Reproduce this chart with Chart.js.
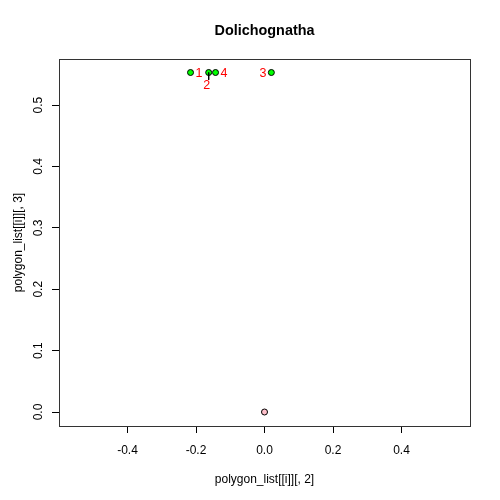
<!DOCTYPE html>
<html>
<head>
<meta charset="utf-8">
<script src="https://cdn.jsdelivr.net/npm/chart.js@4"></script>
<style>
  body { margin:0; background:#fff; }
  canvas { display:block; }
</style>
</head>
<body>
<canvas id="plot" width="500" height="500"></canvas>
<script>
// polygon vertices (green) and centre point (pink)
const ptX = [-0.216, -0.163, 0.020, -0.143];
const ptY = [0.553, 0.553, 0.553, 0.553];
const ptLabels = ['1', '2', '3', '4'];
const ptPos = ['right', 'below', 'left', 'right'];
const centreX = [0.0];
const centreY = [0.0];
const segX = [-0.163, -0.163];
const segY = [0.553, 0.541];
const xTicks = [-0.4, -0.2, 0.0, 0.2, 0.4];
const yTicks = [0.0, 0.1, 0.2, 0.3, 0.4, 0.5];

const FONT = 'Liberation Sans, Arial, Helvetica, sans-serif';

const rPlot = {
  id: 'rPlot',
  afterDatasetsDraw(chart){
    const {ctx, chartArea:a, scales:{x, y}} = chart;
    ctx.save();
    // point labels
    ctx.fillStyle = '#ff0000';
    ctx.font = '12.5px ' + FONT;
    ptX.forEach((v,i)=>{
      const px = x.getPixelForValue(v), py = y.getPixelForValue(ptY[i]);
      const p = ptPos[i];
      if (p === 'right'){ ctx.textAlign='left'; ctx.textBaseline='middle'; ctx.fillText(ptLabels[i], px+5, py+1.5); }
      else if (p === 'left'){ ctx.textAlign='right'; ctx.textBaseline='middle'; ctx.fillText(ptLabels[i], px-5, py+1.5); }
      else { ctx.textAlign='center'; ctx.textBaseline='top'; ctx.fillText(ptLabels[i], px-2, py+7); }
    });
    // box
    ctx.strokeStyle = '#333';
    ctx.lineWidth = 1;
    ctx.strokeRect(Math.round(a.left)+0.5, Math.round(a.top)+0.5, Math.round(a.right-a.left), Math.round(a.bottom-a.top));
    // title
    ctx.fillStyle = '#000';
    ctx.font = 'bold 14.4px ' + FONT;
    ctx.textAlign = 'center';
    ctx.textBaseline = 'middle';
    ctx.fillText('Dolichognatha', (a.left+a.right)/2, 31);
    ctx.restore();
  }
};

new Chart(document.getElementById('plot'), {
  type: 'scatter',
  data: {
    datasets: [
      { data: segX.map((v,i)=>({x:v, y:segY[i]})), showLine:true, borderColor:'#000', borderWidth:1, pointRadius:0 },
      { data: ptX.map((v,i)=>({x:v, y:ptY[i]})), backgroundColor:'#00ff00', borderColor:'#000', borderWidth:1, pointRadius:3 },
      { data: centreX.map((v,i)=>({x:v, y:centreY[i]})), backgroundColor:'#ffc0cb', borderColor:'#000', borderWidth:1, pointRadius:3 }
    ]
  },
  options: {
    responsive:false,
    animation:false,
    layout:{ padding:{ top:59, right:30, left:0, bottom:0 } },
    plugins:{ legend:{display:false}, tooltip:{enabled:false}, title:{display:false} },
    scales:{
      x:{
        type:'linear', min:-0.6, max:0.6,
        afterFit(s){ s.height = 74; },
        afterBuildTicks(s){ s.ticks = xTicks.map(v=>({value:v})); },
        grid:{ drawOnChartArea:false, tickLength:7, color:'#000' },
        border:{ display:false },
        ticks:{ color:'#000', font:{ family:FONT, size:12 }, padding:10, maxRotation:0, callback:v=>v.toFixed(1) },
        title:{ display:true, text:'polygon_list[[i]][, 2]', color:'#000', font:{ family:FONT, size:12 }, padding:{top:0, bottom:13} }
      },
      y:{
        type:'linear', min:-0.0228, max:0.575,
        afterFit(s){ s.width = 59; },
        afterBuildTicks(s){ s.ticks = yTicks.map(v=>({value:v})); },
        grid:{ drawOnChartArea:false, tickLength:7, color:'#000' },
        border:{ display:false },
        ticks:{ color:'#000', font:{ family:FONT, size:12 }, padding:5, minRotation:90, maxRotation:90, crossAlign:'center', callback:v=>v.toFixed(1) },
        title:{ display:true, text:'polygon_list[[i]][, 3]', color:'#000', font:{ family:FONT, size:12 }, padding:{top:11, bottom:0} }
      }
    }
  },
  plugins:[rPlot]
});
</script>
</body>
</html>
